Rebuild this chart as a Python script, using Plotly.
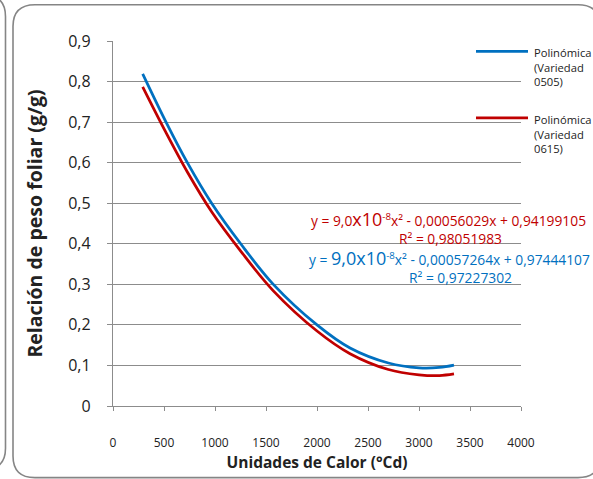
import plotly.graph_objects as go

# ---- data ----
x_heat = [291, 520, 729, 967, 1252, 1572, 2000, 2324, 2700, 3000, 3200, 3343]
y_0505 = [0.819, 0.700, 0.600, 0.500, 0.400, 0.300, 0.200, 0.143, 0.106, 0.094, 0.095, 0.101]
y_0615 = [0.787, 0.674, 0.577, 0.479, 0.382, 0.284, 0.185, 0.129, 0.090, 0.077, 0.075, 0.079]
series_names = ["Polinómica (Variedad 0505)", "Polinómica (Variedad 0615)"]
legend_text = ["Polinómica<br>(Variedad<br>0505)", "Polinómica<br>(Variedad<br>0615)"]
x_ticks = [0, 500, 1000, 1500, 2000, 2500, 3000, 3500, 4000]
y_ticks = [0, 0.1, 0.2, 0.3, 0.4, 0.5, 0.6, 0.7, 0.8, 0.9]
y_tick_text = ["0", "0,1", "0,2", "0,3", "0,4", "0,5", "0,6", "0,7", "0,8", "0,9"]

BLUE = "#0070C0"
RED = "#C00000"
GRID = "#8c8c8c"
FRAME = "#858585"
FONT = "Open Sans"

W, H = 593, 479
L, R, T, B = 113, 72, 41, 66
PW, PH = W - L - R, H - T - B


def px(x):
    return (x - L) / PW


def py(y):
    return (H - B - y) / PH


def rrect(x0, y0, x1, y1, r):
    pts = [
        f"M {px(x0 + r)},{py(y0)}",
        f"L {px(x1 - r)},{py(y0)}",
        f"Q {px(x1)},{py(y0)} {px(x1)},{py(y0 + r)}",
        f"L {px(x1)},{py(y1 - r)}",
        f"Q {px(x1)},{py(y1)} {px(x1 - r)},{py(y1)}",
        f"L {px(x0 + r)},{py(y1)}",
        f"Q {px(x0)},{py(y1)} {px(x0)},{py(y1 - r)}",
        f"L {px(x0)},{py(y0 + r)}",
        f"Q {px(x0)},{py(y0)} {px(x0 + r)},{py(y0)}",
        "Z",
    ]
    return " ".join(pts)


fig = go.Figure()
fig.add_trace(go.Scatter(x=x_heat, y=y_0505, mode="lines", name=series_names[0],
                         line=dict(color=BLUE, width=2.75, shape="spline", smoothing=1.0),
                         showlegend=False))
fig.add_trace(go.Scatter(x=x_heat, y=y_0615, mode="lines", name=series_names[1],
                         line=dict(color=RED, width=2.75, shape="spline", smoothing=1.0),
                         showlegend=False))

shapes = [
    dict(type="path", xref="paper", yref="paper", path=rrect(13, 4, 600, 486, 22),
         line=dict(color=FRAME, width=1.6), layer="below"),
    dict(type="path", xref="paper", yref="paper", path=rrect(-300, -6, 5.5, 478, 22),
         line=dict(color=FRAME, width=1.6), layer="below"),
    # legend sample lines
    dict(type="line", xref="paper", yref="paper", x0=px(476), x1=px(528), y0=py(51.7), y1=py(51.7),
         line=dict(color=BLUE, width=2.75)),
    dict(type="line", xref="paper", yref="paper", x0=px(476), x1=px(528), y0=py(119.3), y1=py(119.3),
         line=dict(color=RED, width=2.75)),
]

annotations = []
for top_y, t in zip([43.5, 111], legend_text):
    annotations.append(dict(xref="paper", yref="paper", x=px(532), y=py(top_y),
                            xanchor="left", yanchor="top", align="left", showarrow=False, text=t,
                            font=dict(family=FONT, size=11.2, color="#222")))

eq_red = ("y = 9,0<span style='font-size:18px'>x10</span><sup>-8</sup>x² - 0,00056029x + 0,94199105")
eq_blue = ("y = <span style='font-size:18px'>9,0x10</span><sup>-8</sup>x² - 0,00057264x + 0,97444107")
annotations += [
    dict(xref="paper", yref="paper", x=px(588), y=py(222), xanchor="right", yanchor="middle",
         showarrow=False, text=eq_red, font=dict(family=FONT, size=13.8, color=RED)),
    dict(xref="paper", yref="paper", x=px(450), y=py(242.5), xanchor="center", yanchor="middle",
         showarrow=False, text="R² = 0,98051983", font=dict(family=FONT, size=13.8, color=RED)),
    dict(xref="paper", yref="paper", x=px(592), y=py(262), xanchor="right", yanchor="middle",
         showarrow=False, text=eq_blue, font=dict(family=FONT, size=13.8, color=BLUE)),
    dict(xref="paper", yref="paper", x=px(460), y=py(282.5), xanchor="center", yanchor="middle",
         showarrow=False, text="R² = 0,97227302", font=dict(family=FONT, size=13.8, color=BLUE)),
]

fig.update_layout(
    width=W, height=H,
    margin=dict(l=L, r=R, t=T, b=B),
    paper_bgcolor="white", plot_bgcolor="white",
    font=dict(family=FONT, color="#222"),
    shapes=shapes, annotations=annotations,
    showlegend=False,
    xaxis=dict(range=[0, 4000], tickvals=x_ticks, ticktext=[str(v) for v in x_ticks],
               showgrid=False, zeroline=False, showline=True, linecolor=GRID, linewidth=1.3,
               ticks="outside", ticklen=4, tickcolor=GRID, tickwidth=1.3,
               ticklabelstandoff=21, tickfont=dict(family=FONT, size=12, color="#222"),
               title=dict(text="<b>Unidades de Calor (°Cd)</b>", standoff=6,
                          font=dict(family=FONT, size=15.5, color="#222"))),
    yaxis=dict(range=[0, 0.9], tickvals=y_ticks, ticktext=y_tick_text,
               showgrid=True, gridcolor=GRID, gridwidth=1.3, zeroline=False,
               showline=True, linecolor=GRID, linewidth=1.3,
               ticks="outside", ticklen=5, tickcolor=GRID, tickwidth=1.3,
               ticklabelstandoff=13, tickfont=dict(family=FONT, size=16, color="#222"),
               title=dict(text="<b>Relación de peso foliar (g/g)</b>", standoff=20,
                          font=dict(family=FONT, size=19.5, color="#222"))),
)

fig.write_html("out.html")
